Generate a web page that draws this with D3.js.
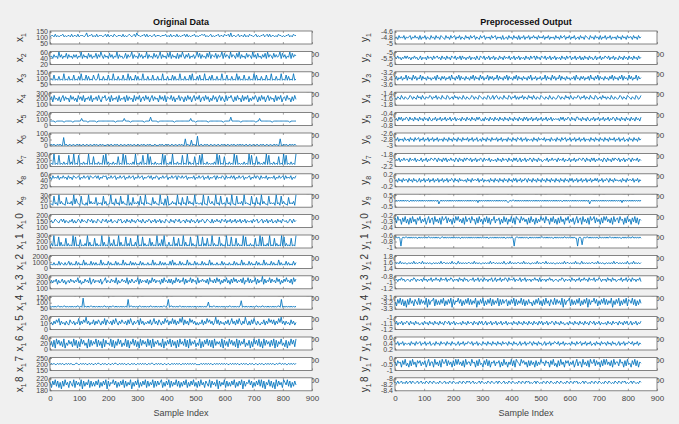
<!DOCTYPE html>
<meta charset="utf-8">
<style>body { margin: 0; }</style>
<svg width="679" height="424"></svg>
<script src="https://d3js.org/d3.v7.min.js"></script>
<script>

var svg = d3.select("svg"),
    width = +svg.attr("width"),
    height = +svg.attr("height");

// shared x axis
var xTicks = [0, 100, 200, 300, 400, 500, 600, 700, 800, 900];
var lastSample = 845;

// y tick values (low, mid, high) for each subplot
var origTicks = [
  [50, 100, 150], [20, 40, 60], [50, 100, 150], [100, 200, 300], [0, 100, 200], [0, 50, 100],
  [100, 200, 300], [20, 40, 60], [10, 20, 30], [100, 150, 200], [100, 200, 300], [0, 1000, 2000],
  [100, 200, 300], [50, 100, 150], [0, 10, 20], [0, 20, 40], [150, 200, 250], [180, 200, 220]
];
var procTicks = [
  [-5, -4.8, -4.6], [-6, -5.5, -5], [-3.6, -3.4, -3.2], [-1.8, -1.6, -1.4], [-0.8, -0.6, -0.4], [-3, -2.8, -2.6],
  [-2.2, -2, -1.8], [-0.2, 0, 0.2], [-0.5, 0, 0.5], [-0.4, -0.3, -0.2], [-1, -0.8, -0.6], [1.4, 1.6, 1.8],
  [-1.2, -1, -0.8], [-3.3, -3.2, -3.1], [-1.2, -1.1, -1], [0.2, 0.4, 0.6], [-1, -0.5, 0], [-8.4, -8.2, -8]
];

// signal levels, 0 = low tick .. 9 = high tick, evenly spaced over the samples
var origLevels = [
  "56657565667565665756657566656856675657566656757566576566657565676567586656675756656756665666756575665756566757565667565667675656756566756657667585665675665756576656756566756757566565766565667565766",
  "56475649574658475647574659475648574658475964756485746594756458475694756485746594756485746947564859475648475964758465746958475648594765847569485764957648594756485764957485647584957648575694857465948576",
  "34373436343834363437343638343736343743483436343734383436343734383634373634383436343734363438343634373634383436343738343637343834363734363438343734363438363437343634383734363437343834363438343736343834",
  "46274536257364527463527463725463725463742657346273546273546273645273647256374625736452746372654736254736526374625736472563746253746257364273657426374527364725364752637462573645273647256374526374",
  "33332333333233333323333335333323333332333333333333332333333533332333333333323333633333233333333333323333333333335333233333333323333333333323333363333333233333333333233533333333323333333333333233333",
  "01010010100601001001001010010010010010100101000100100101001001001010010010010100101000100010100101001001001010050100401007001001010010010010010100100101001010100100100100100101001001001010050010100101010",
  "12191218121312181319121812131219121712131218191312131217121918121213191213181219171213121219181213191213121812191312171218191213121213191812171213121918121213121918121713121319181213121712191812131219",
  "75867685768675867587678576867858767868576878576867857686785768678576867857678685768757686785768678587686785767685768678576857678586768758676868576867857678576868758676857676857686785867685768",
  "22182319242217232419263218221319242327132318241229231623182422191317232418231923221724221923161812242319231723182423192322319221832421923182231723192218232419232218231723192422182323192318242217232419",
  "45346543564635435463534653645436546354365436546354634543656345364536453564536435465354635463543654364536546345536453645346354653465436354645365463546354635463546354453645634563546354634536453654534653645",
  "13191218141217131219181216121319141217131219141218131612191412181317121419121813121714121913161912141218131712191412181312191218131712191312181312191218121713121918121312171219181213191217131219181312171219",
  "23242325243242352423252423262423252424232624232524232524232624232524242325242324232624232524242325262423252423262423252423252423262423242325242324232524232624232524232524232624232524232624232524232524",
  "46465736457463564756465846354756483574656473568465475648364575648364754658374656473648574656374856474736485746583746584756384657564738564748573647584637485746574836584746583746593746584756485736475856473857",
  "21212122121221212121212212181212122121212121221212122121212121217122121212212121212212121212122127122121212212121212121212121212125121221212121212122121212126121212121212212122121212121212217121212121212",
  "45364758364536437546354836475946354736475364837546374853647546374853645738463546473584637536485736484736485937463857463535473648574635947364536473584637485364953637485364354736485747364859463645374635",
  "36271847362815374628371628473518273648273618274538271638472538271648372618374628371826473528163748273617284638271836472538162748372718364628173628473628173648253716284738261837462738172648352716384728",
  "45454454545445454544455445454544545445455445454454454554454545445445454454545454454554454545445445445454545445454545454544445454545454454545454545445454545445454544545445445454454545454454554545445454545",
  "62748372617384627538274638173648273637482637481736584726374827364816374826374827364827374682637482736483726374826374836273846275382746381736482736374826374817365847263748382716483726183746286483726374"
];
var procLevels = [
  "45364546354563546453635463543645364536543645364563546354364536456354364563545364563545363453645364536354635463546453645463546354536453645635463546345364536543645364536354635463545364536453645536453645",
  "54645354646453546453463545364553645645364536453654635463645354635453643654635463546354364536454635463546354536453645636453654635463546354536453645635463546353645364534635463546546354635436453645364536453645",
  "46354635473645374635473645364535463745364635463745364736453645364736453746354736463547364536473645364736453645364735463546354736453746354736453645354637453646354637453647364536453647364536473645374635473645",
  "54654754654576465475647546557646574654755476456475646547546545764654765465476457467546547554764657464657465475647546547654654754654576465475647546557646574654755476456475646547546545764654765465476457",
  "45364635465364536453645364536435463546354635463546354536453645364536464353645364536453645364536453645364536463546354635463546354635454536463546536453664536453643546354635463546354653645364536453645364536",
  "54635453644536453645635463546354635463545364536453645364536454635463546345364536453645463546354536453645365463546354453645364554635453644536453645635463546354635463545364536453645364536454635463546345364536453645",
  "45463546455364546354463546354654653645364635464536536453646546354635465364546354453645364553645364634635463546536453645345463546455364546354463546354654653645364635464536536453646546354635465364546354",
  "45364536455364536453463546354635463546354635463546536453645445364536455463546354453645364536453645364536463546354653645364536453645364536453645364536453646354635463546354635464635463546536453645445364536455463546354",
  "45454545454544545454545454545454545454524545454545454545454545454545454545354545454545454545454545454345455454545454545454545454545454545454545454545445454545454545454545454524545454545454545454545454545354545454545454545",
  "73856274836273846275836472583672846372856837462738584637284673856273846274837265836572638472648372866385746273846273648573856274836273846275836472583672846372856837462738584637284673856273846274837265",
  "78787178788787878787787878787887878787877887878787878787877878787878787878787878787787878787878787787878717887878787877878787878788787878787787878787887878787877178727878878787878778787878788787878787787878787887878787",
  "43435343433434353434435343434334343435344343435343353434343443435343433434343534434343435334353434344343534343343435343443534343433434343534434343534335343434344343534343343434353443434343533435343434",
  "67576867567657687576675867576857686758676857687576758675867567685768577586757685685768576875867685766857685767576867585767576867567657687576675867576857686758676857687576758675867567685768577586757685",
  "52748372617384627538374638173668273637482637481736584726374837364816374826374827364827374672637482736483726374526374836273846275383746381736682736374826374817365847263748373648163748263748276483726374",
  "46354635465364536453453645364536453645365463546354453645364553645364634635463546354635463545364536453645364536453646354635465364536453453645364536453645365463546354453645364553645364634635463546",
  "54635463544536453645635463546345364536455364536453463546354654635463543645364536453645364553645364534635463546536453645346354635465463546354453645364563546354634536453645536453645346354635465463546354",
  "63756274835273846275736472583662846372855837462738484637284663856273845274837265736572638462648372865385746273746273648563756274835273846275736472583662846372855837462738484637284663856273845274837265",
  "65756756575675765675675657657657656576567565765765657657657675675656757656576576567576567565765765657657657675656757656576576576565765765657657657675656757656576576576565765765657657657675656757656576"
];

var rowTop0 = 31, rowStep = 20.4, rowH = 13;
var lineColor = "#0072BD";

svg.append("rect").attr("width", width).attr("height", height).attr("fill", "#f0f0f0");

var panels = [
  {left: 50, right: 312, title: "Original Data", letter: "x", ticks: origTicks, levels: origLevels},
  {left: 395, right: 657, title: "Preprocessed Output", letter: "y", ticks: procTicks, levels: procLevels}
];

panels.forEach(function(p) {
  var x = d3.scaleLinear().domain([0, 900]).range([p.left, p.right]);

  svg.append("text")
      .attr("x", (p.left + p.right) / 2)
      .attr("y", 25)
      .attr("text-anchor", "middle")
      .attr("font-family", "Liberation Sans, Arial, sans-serif")
      .attr("font-weight", "bold")
      .attr("font-size", 9)
      .attr("fill", "#111")
      .text(p.title);

  p.levels.forEach(function(str, i) {
    var top = rowTop0 + i * rowStep,
        bottom = top + rowH,
        last = i === p.levels.length - 1,
        t = p.ticks[i];

    var y = d3.scaleLinear().domain([t[0], t[2]]).range([bottom - 0.6, top + 0.6]);
    var values = str.split("").map(function(c) { return t[0] + (t[2] - t[0]) * (+c) / 9; });
    var step = (lastSample - 1) / (values.length - 1);

    var g = svg.append("g")
        .attr("font-family", "Liberation Sans, Arial, sans-serif");

    // x tick labels (hidden behind the next subplot except for the last one)
    var xl = g.append("g")
        .attr("transform", "translate(0," + (last ? bottom : top + rowStep - 0.5) + ")")
        .call(d3.axisBottom(x).tickValues(xTicks).tickSize(0).tickPadding(last ? 5 : 0));
    xl.select(".domain").remove();
    xl.selectAll("text").attr("font-size", 8).attr("fill", "#444").attr("font-family", null);

    g.append("rect")
        .attr("x", p.left)
        .attr("y", top)
        .attr("width", p.right - p.left)
        .attr("height", rowH)
        .attr("fill", "#fff")
        .attr("stroke", "#666")
        .attr("stroke-width", 0.8);

    // inward tick marks top and bottom
    [[bottom, d3.axisTop], [top, d3.axisBottom]].forEach(function(a) {
      var tk = g.append("g")
          .attr("transform", "translate(0," + a[0] + ")")
          .call(a[1](x).tickValues(xTicks).tickSize(2).tickSizeOuter(0).tickFormat(""));
      tk.select(".domain").remove();
      tk.selectAll("line").attr("stroke", "#666").attr("stroke-width", 0.6);
    });

    g.append("path")
        .datum(values)
        .attr("fill", "none")
        .attr("stroke", lineColor)
        .attr("stroke-width", 0.85)
        .attr("d", d3.line()
            .x(function(d, j) { return x(1 + j * step); })
            .y(function(d) { return y(d); }));

    var ya = g.append("g")
        .attr("transform", "translate(" + p.left + ",0)")
        .call(d3.axisLeft(y).tickValues(t).tickSizeInner(-2).tickSizeOuter(0).tickPadding(2)
            .tickFormat(function(d) { return String(d); }));
    ya.select(".domain").remove();
    ya.selectAll("line").attr("stroke", "#666").attr("stroke-width", 0.6);
    ya.selectAll("text").attr("font-size", 7).attr("fill", "#444").attr("font-family", null);

    // axis name with subscript
    var k = i + 1;
    var lab = g.append("text")
        .attr("transform", "translate(" + (p.left - 27) + "," + (top + rowH / 2) + ") rotate(-90)")
        .attr("text-anchor", "middle")
        .attr("font-size", 10)
        .attr("fill", "#333");
    lab.append("tspan").text(p.letter);
    lab.append("tspan").attr("dy", 3).attr("font-size", 7).text(k < 10 ? k : "1");
    if (k >= 10) lab.append("tspan").attr("dy", -3).attr("dx", 1.5).text(k - 10);
  });

  svg.append("text")
      .attr("x", (p.left + p.right) / 2)
      .attr("y", 416)
      .attr("text-anchor", "middle")
      .attr("font-family", "Liberation Sans, Arial, sans-serif")
      .attr("font-size", 9)
      .attr("fill", "#444")
      .text("Sample Index");
});

</script>
